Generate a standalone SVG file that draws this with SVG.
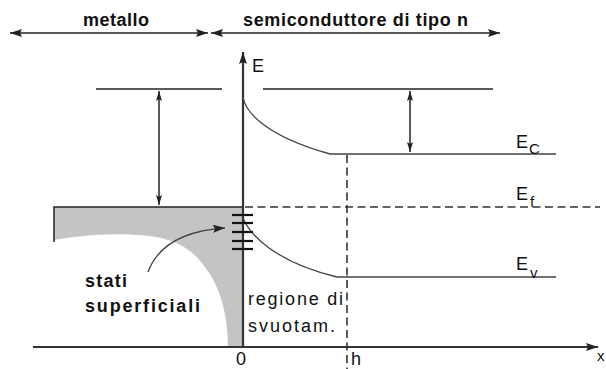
<svg xmlns="http://www.w3.org/2000/svg" width="606" height="369" viewBox="0 0 606 369">
<defs>
<style>
.ln{stroke:#222;stroke-width:1.5;fill:none}
.cv{stroke:#444;stroke-width:1.3;fill:none}
.ax{stroke:#333;stroke-width:2.2;fill:none}
.ds{stroke:#333;stroke-width:1.6;fill:none;stroke-dasharray:8,4.5}
.ss{stroke:#111;stroke-width:2.2}
text{font-family:"Liberation Sans",Arial,sans-serif;fill:#111}
.b{font-weight:bold;font-size:18px}
.n{font-size:18px}
.sub{font-size:15px}
</style>
<marker id="ah" viewBox="0 0 10 6" refX="10" refY="3" markerWidth="10" markerHeight="6" markerUnits="userSpaceOnUse" orient="auto-start-reverse">
<path d="M0,0 L10,3 L0,6 L2,3 Z" fill="#222"/>
</marker>
<marker id="ah2" viewBox="0 0 12 8" refX="12" refY="4" markerWidth="12" markerHeight="8" markerUnits="userSpaceOnUse" orient="auto-start-reverse">
<path d="M0,0 L12,4 L0,8 L2,4 Z" fill="#222"/>
</marker>
</defs>

<g id="regions">
<line class="ln" x1="10" y1="33" x2="208" y2="33" marker-start="url(#ah2)" marker-end="url(#ah2)"/>
<line class="ln" x1="211" y1="33" x2="500" y2="33" marker-start="url(#ah2)" marker-end="url(#ah2)"/>
<text class="b" x="83" y="26" textLength="66" lengthAdjust="spacing">metallo</text>
<text class="b" x="243" y="26" textLength="225" lengthAdjust="spacing">semiconduttore di tipo n</text>
</g>

<g id="metal">
<path d="M54,207 L243,207 L243,347 L228,347 C228,320 222,290 207,270 C195,252 180,240 150,236 C110,232 80,236 54,240 Z" fill="#c4c4c4"/>
<polyline class="ln" points="54,242 54,207 243,207"/>
</g>

<g id="axes">
<line class="ax" x1="243" y1="348" x2="243" y2="52" marker-end="url(#ah2)"/>
<text class="n" x="252" y="72" font-size="18">E</text>
<line class="ax" x1="33" y1="347" x2="598" y2="347" marker-end="url(#ah2)"/>
<text class="sub" x="597" y="361" font-size="13">x</text>
<text class="n" x="236" y="365" font-size="16">0</text>
<text class="n" x="351" y="365" font-size="16">h</text>
</g>

<g id="levels">
<line class="ln" x1="96" y1="89" x2="222" y2="89"/>
<line class="ln" x1="263" y1="89" x2="493" y2="89"/>
<line class="ln" x1="159" y1="91" x2="159" y2="205" marker-start="url(#ah)" marker-end="url(#ah)"/>
<line class="ln" x1="410" y1="91" x2="410" y2="152" marker-start="url(#ah)" marker-end="url(#ah)"/>
<path class="cv" d="M243,97 C245,110 262,135 330,154 L556,154"/>
<path class="cv" d="M243,218 C250,235 275,262 337,277 L556,277"/>
<line class="ds" x1="245" y1="207" x2="600" y2="207"/>
<line class="ds" x1="347" y1="155" x2="347" y2="369"/>
</g>

<g id="labels">
<text class="n" x="516" y="148">E</text><text class="sub" x="529" y="154">C</text>
<text class="n" x="516" y="200">E</text><text class="sub" x="530" y="207">f</text>
<text class="n" x="516" y="270">E</text><text class="sub" x="530" y="278">v</text>
</g>

<g id="surface-states">
<line class="ss" x1="232" y1="215" x2="253" y2="215"/>
<line class="ss" x1="232" y1="223" x2="253" y2="223"/>
<line class="ss" x1="232" y1="232" x2="253" y2="232"/>
<line class="ss" x1="232" y1="241" x2="253" y2="241"/>
<line class="ss" x1="232" y1="249" x2="253" y2="249"/>
<path class="cv" d="M148,272 Q163,232 225,228" stroke="#333" stroke-width="1.4" marker-end="url(#ah2)"/>
<text class="b" x="85" y="287" font-size="19" textLength="42" lengthAdjust="spacing">stati</text>
<text class="b" x="85" y="312" font-size="19" textLength="115" lengthAdjust="spacing">superficiali</text>
</g>

<g id="depletion">
<text class="n" x="248" y="305" font-size="18" textLength="95" lengthAdjust="spacing">regione di</text>
<text class="n" x="248" y="332" font-size="18" textLength="87" lengthAdjust="spacing">svuotam.</text>
</g>
</svg>
